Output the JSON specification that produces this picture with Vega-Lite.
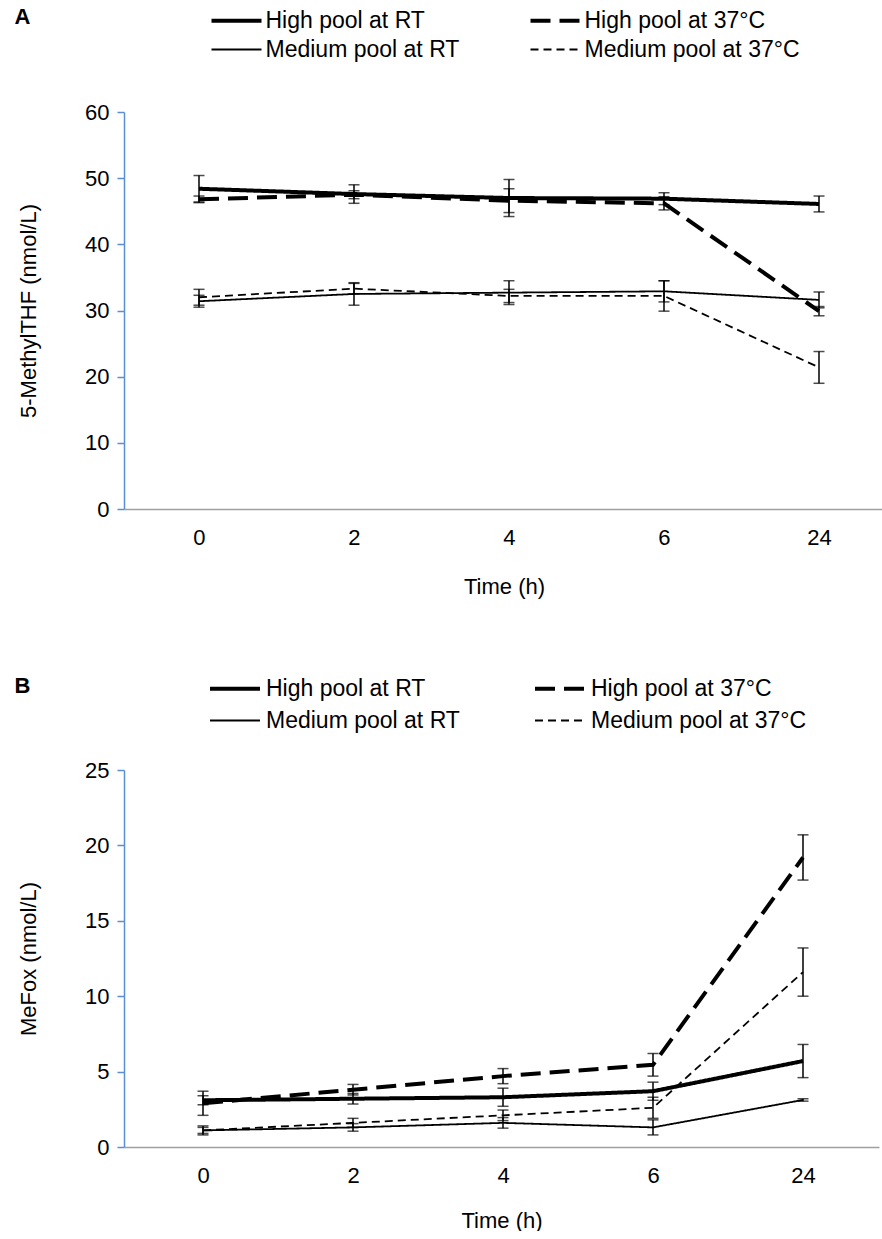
{
  "$schema": "https://vega.github.io/schema/vega-lite/v6.json",
  "background": "white",
  "padding": {"left": 14, "top": 6, "right": 0, "bottom": 0},
  "config": {
    "font": "Liberation Sans",
    "view": {"stroke": null},
    "axis": {"grid": false, "labelFontSize": 22, "titleFontSize": 22, "labelColor": "black", "titleColor": "black", "titleFontWeight": "normal", "labelFont": "Liberation Sans", "titleFont": "Liberation Sans"},
    "title": {"fontSize": 22, "fontWeight": "bold", "anchor": "start", "frame": "bounds", "color": "black", "font": "Liberation Sans"}
  },
  "datasets": {
    "A": [
      {"time": "0", "series": "High pool at RT", "mean": 48.4, "sd": 2.0},
      {"time": "2", "series": "High pool at RT", "mean": 47.6, "sd": 1.4},
      {"time": "4", "series": "High pool at RT", "mean": 47.0, "sd": 2.8},
      {"time": "6", "series": "High pool at RT", "mean": 46.9, "sd": 0.9},
      {"time": "24", "series": "High pool at RT", "mean": 46.1, "sd": 1.2},
      {"time": "0", "series": "High pool at 37°C", "mean": 46.8, "sd": 0.5},
      {"time": "2", "series": "High pool at 37°C", "mean": 47.5, "sd": 0.6},
      {"time": "4", "series": "High pool at 37°C", "mean": 46.6, "sd": 1.8},
      {"time": "6", "series": "High pool at 37°C", "mean": 46.2, "sd": 1.0},
      {"time": "24", "series": "High pool at 37°C", "mean": 29.9, "sd": 0.7},
      {"time": "0", "series": "Medium pool at RT", "mean": 31.4, "sd": 0.9},
      {"time": "2", "series": "Medium pool at RT", "mean": 32.5, "sd": 1.7},
      {"time": "4", "series": "Medium pool at RT", "mean": 32.7, "sd": 1.8},
      {"time": "6", "series": "Medium pool at RT", "mean": 32.9, "sd": 1.6},
      {"time": "24", "series": "Medium pool at RT", "mean": 31.6, "sd": 1.2},
      {"time": "0", "series": "Medium pool at 37°C", "mean": 32.0, "sd": 1.2},
      {"time": "2", "series": "Medium pool at 37°C", "mean": 33.3, "sd": 0.8},
      {"time": "4", "series": "Medium pool at 37°C", "mean": 32.2, "sd": 1.0},
      {"time": "6", "series": "Medium pool at 37°C", "mean": 32.2, "sd": 2.3},
      {"time": "24", "series": "Medium pool at 37°C", "mean": 21.4, "sd": 2.4}
    ],
    "B": [
      {"time": "0", "series": "High pool at RT", "mean": 3.1, "sd": 0.3},
      {"time": "2", "series": "High pool at RT", "mean": 3.2, "sd": 0.35},
      {"time": "4", "series": "High pool at RT", "mean": 3.3, "sd": 0.6},
      {"time": "6", "series": "High pool at RT", "mean": 3.7, "sd": 0.6},
      {"time": "24", "series": "High pool at RT", "mean": 5.7, "sd": 1.1},
      {"time": "0", "series": "High pool at 37°C", "mean": 2.9, "sd": 0.8},
      {"time": "2", "series": "High pool at 37°C", "mean": 3.8, "sd": 0.35},
      {"time": "4", "series": "High pool at 37°C", "mean": 4.7, "sd": 0.5},
      {"time": "6", "series": "High pool at 37°C", "mean": 5.45, "sd": 0.75},
      {"time": "24", "series": "High pool at 37°C", "mean": 19.2, "sd": 1.5},
      {"time": "0", "series": "Medium pool at RT", "mean": 1.1, "sd": 0.3},
      {"time": "2", "series": "Medium pool at RT", "mean": 1.3, "sd": 0.25},
      {"time": "4", "series": "Medium pool at RT", "mean": 1.6, "sd": 0.35},
      {"time": "6", "series": "Medium pool at RT", "mean": 1.3, "sd": 0.5},
      {"time": "24", "series": "Medium pool at RT", "mean": 3.12, "sd": 0.08},
      {"time": "0", "series": "Medium pool at 37°C", "mean": 1.1, "sd": 0.2},
      {"time": "2", "series": "Medium pool at 37°C", "mean": 1.6, "sd": 0.3},
      {"time": "4", "series": "Medium pool at 37°C", "mean": 2.1, "sd": 0.35},
      {"time": "6", "series": "Medium pool at 37°C", "mean": 2.6, "sd": 0.7},
      {"time": "24", "series": "Medium pool at 37°C", "mean": 11.6, "sd": 1.6}
    ]
  },
  "concat": [
    {
      "width": 760,
      "height": 397,
      "title": {"text": "A", "offset": -23, "dx": -3},
      "data": {"name": "A"},
      "layer": [
        {
          "mark": {"type": "line", "color": "black"},
          "encoding": {
            "x": {"field": "time", "type": "ordinal", "scale": {"type": "point", "domain": ["0", "2", "4", "6", "24"], "padding": 0.4516, "align": 0.5357},
              "axis": {"title": "Time (h)", "labelAngle": 0, "ticks": false, "domainColor": "#a0a0a0", "domainWidth": 1.5, "labelPadding": 18, "titlePadding": 28}},
            "y": {"field": "mean", "type": "quantitative", "title": "5-MethylTHF (nmol/L)", "scale": {"domain": [0, 60], "nice": false},
              "axis": {"values": [0, 10, 20, 30, 40, 50, 60], "domainColor": "#5b8fd4", "tickColor": "#5b8fd4", "domainWidth": 1.5, "tickWidth": 1.5, "tickSize": 7, "labelPadding": 8, "titlePadding": 44}},
            "strokeDash": {"field": "series", "type": "nominal",
              "scale": {"domain": ["High pool at RT", "High pool at 37°C", "Medium pool at RT", "Medium pool at 37°C"], "range": [[1, 0], [20, 9], [1, 0], [8, 5]]},
              "legend": {"title": null, "orient": "none", "direction": "horizontal", "legendX": 98, "legendY": -106, "columns": 2, "symbolType": "M-2,0H2", "symbolSize": 625, "symbolStrokeColor": "black", "labelFontSize": 23, "labelColor": "black", "labelOffset": 14.5, "columnPadding": 62, "rowPadding": 3, "labelLimit": 400}},
            "strokeWidth": {"field": "series", "type": "nominal",
              "scale": {"type": "ordinal", "domain": ["High pool at RT", "High pool at 37°C", "Medium pool at RT", "Medium pool at 37°C"], "range": [4, 4, 1.8, 1.8]},
              "legend": {"title": null, "orient": "none", "direction": "horizontal", "legendX": 98, "legendY": -106, "columns": 2, "symbolType": "M-2,0H2", "symbolSize": 625, "symbolStrokeColor": "black", "labelFontSize": 23, "labelColor": "black", "labelOffset": 14.5, "columnPadding": 62, "rowPadding": 3, "labelLimit": 400}}
          }
        },
        {
          "mark": {"type": "errorbar", "color": "black", "ticks": {"size": 11, "thickness": 1.5, "color": "black"}, "rule": {"strokeWidth": 1.5}},
          "encoding": {
            "x": {"field": "time", "type": "ordinal"},
            "y": {"field": "mean", "type": "quantitative", "title": "5-MethylTHF (nmol/L)"},
            "yError": {"field": "sd"}
          }
        }
      ]
    },
    {
      "width": 755,
      "height": 377,
      "title": {"text": "B", "offset": -24, "dx": -3},
      "data": {"name": "B"},
      "layer": [
        {
          "mark": {"type": "line", "color": "black"},
          "encoding": {
            "x": {"field": "time", "type": "ordinal", "scale": {"type": "point", "domain": ["0", "2", "4", "6", "24"], "padding": 0.5167, "align": 0.5097},
              "axis": {"title": "Time (h)", "labelAngle": 0, "ticks": false, "domainColor": "#a0a0a0", "domainWidth": 1.5, "labelPadding": 18, "titlePadding": 24}},
            "y": {"field": "mean", "type": "quantitative", "title": "MeFox (nmol/L)", "scale": {"domain": [0, 25], "nice": false},
              "axis": {"values": [0, 5, 10, 15, 20, 25], "domainColor": "#5b8fd4", "tickColor": "#5b8fd4", "domainWidth": 1.5, "tickWidth": 1.5, "tickSize": 7, "labelPadding": 8, "titlePadding": 44}},
            "strokeDash": {"field": "series", "type": "nominal",
              "scale": {"domain": ["High pool at RT", "High pool at 37°C", "Medium pool at RT", "Medium pool at 37°C"], "range": [[1, 0], [20, 9], [1, 0], [8, 5]]},
              "legend": {"title": null, "orient": "none", "direction": "horizontal", "legendX": 96.5, "legendY": -96, "columns": 2, "symbolType": "M-2,0H2", "symbolSize": 625, "symbolStrokeColor": "black", "labelFontSize": 23, "labelColor": "black", "labelOffset": 16.5, "columnPadding": 66, "rowPadding": 6, "labelLimit": 400}},
            "strokeWidth": {"field": "series", "type": "nominal",
              "scale": {"type": "ordinal", "domain": ["High pool at RT", "High pool at 37°C", "Medium pool at RT", "Medium pool at 37°C"], "range": [4, 4, 1.8, 1.8]},
              "legend": {"title": null, "orient": "none", "direction": "horizontal", "legendX": 96.5, "legendY": -96, "columns": 2, "symbolType": "M-2,0H2", "symbolSize": 625, "symbolStrokeColor": "black", "labelFontSize": 23, "labelColor": "black", "labelOffset": 16.5, "columnPadding": 66, "rowPadding": 6, "labelLimit": 400}}
          }
        },
        {
          "mark": {"type": "errorbar", "color": "black", "ticks": {"size": 11, "thickness": 1.5, "color": "black"}, "rule": {"strokeWidth": 1.5}},
          "encoding": {
            "x": {"field": "time", "type": "ordinal"},
            "y": {"field": "mean", "type": "quantitative", "title": "MeFox (nmol/L)"},
            "yError": {"field": "sd"}
          }
        }
      ]
    }
  ],
  "columns": 1,
  "align": "none",
  "spacing": 77,
  "resolve": {"scale": {"x": "independent", "y": "independent", "strokeDash": "independent", "strokeWidth": "independent"}, "legend": {"strokeDash": "independent", "strokeWidth": "independent"}}
}
